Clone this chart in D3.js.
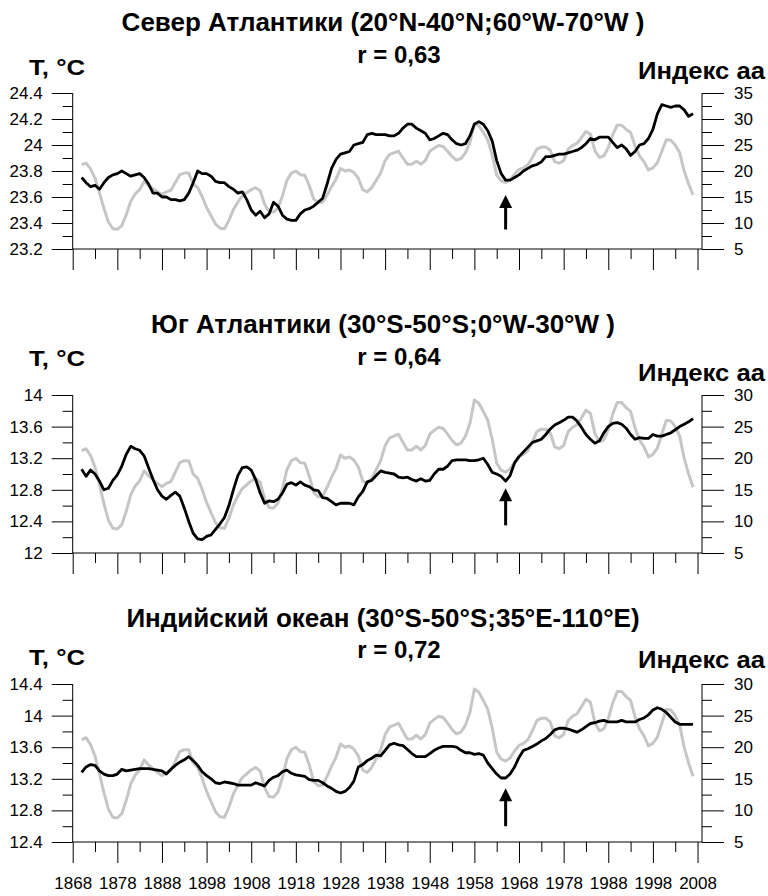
<!DOCTYPE html>
<html>
<head>
<meta charset="utf-8">
<script src="https://cdn.jsdelivr.net/npm/d3@7"></script>
<style>
  html, body { margin: 0; padding: 0; background: #fff; }
  svg { display: block; }
  text { font-family: "Liberation Sans", Arial, sans-serif; fill: #000; }
</style>
</head>
<body>
<svg id="chart" width="768" height="896"></svg>
<script>
// Years of the smoothed series
const firstYear = 1870;

// Geomagnetic aa index (same series in every panel)
const aaIndex = [
  21.2, 21.5, 20.4, 18.6, 15.8, 12.8, 10.2, 8.9, 8.8, 9.5,
  11.6, 14.2, 15.6, 16.4, 18.0, 17.2, 16.6, 16.0, 15.5, 16.0,
  16.3, 17.8, 19.3, 19.6, 19.6, 17.5, 16.8, 15.1, 13.0, 11.4,
  9.8, 9.0, 8.9, 10.5, 12.6, 14.0, 15.2, 15.8, 16.4, 16.8,
  16.2, 13.6, 12.2, 12.1, 12.9, 15.2, 18.2, 19.6, 20.0, 19.3,
  19.2, 17.2, 14.6, 13.9, 14.0, 15.4, 17.0, 18.4, 20.5, 20.0,
  20.2, 19.7, 18.6, 16.4, 16.0, 16.8, 18.2, 19.6, 22.0, 23.2,
  23.5, 23.8, 22.5, 21.3, 21.3, 21.9, 21.3, 22.0, 23.8, 24.4,
  24.9, 24.7, 23.8, 22.8, 22.1, 22.4, 23.5, 25.5, 29.2, 28.7,
  27.4, 26.0, 23.0, 19.2, 18.1, 17.8, 18.3, 19.4, 20.3, 20.6,
  21.2, 22.6, 24.2, 24.6, 24.6, 24.0, 21.8, 21.5, 22.0, 24.2,
  24.9, 25.3, 26.4, 27.6, 27.1, 23.9, 22.6, 22.9, 24.5, 27.0,
  28.8, 28.8, 28.0, 27.4, 24.8, 22.9, 21.8, 20.2, 20.6, 21.6,
  23.8, 26.0, 25.9, 25.0, 23.5, 20.0, 17.5, 15.4
];

// Sea surface temperature, North Atlantic (20N-40N; 60W-70W)
const tempNorthAtlantic = [
  23.75, 23.71, 23.68, 23.69, 23.66, 23.71, 23.75, 23.77, 23.78, 23.80,
  23.78, 23.76, 23.77, 23.78, 23.75, 23.70, 23.63, 23.63, 23.60, 23.60,
  23.58, 23.58, 23.57, 23.58, 23.63, 23.71, 23.80, 23.78, 23.78, 23.76,
  23.72, 23.71, 23.71, 23.68, 23.66, 23.63, 23.64, 23.58, 23.50, 23.46,
  23.49, 23.44, 23.47, 23.56, 23.53, 23.46, 23.43, 23.42, 23.42, 23.47,
  23.50, 23.51, 23.53, 23.56, 23.59, 23.70, 23.82, 23.89, 23.93, 23.94,
  23.95, 24.00, 24.01, 24.02, 24.08, 24.09, 24.08, 24.08, 24.08, 24.07,
  24.07, 24.09, 24.13, 24.16, 24.16, 24.13, 24.11, 24.09, 24.04, 24.05,
  24.07, 24.09, 24.08, 24.04, 24.01, 24.00, 24.01, 24.07, 24.16, 24.18,
  24.16, 24.11, 24.03, 23.88, 23.78, 23.73, 23.73, 23.75, 23.77, 23.80,
  23.82, 23.84, 23.85, 23.87, 23.91, 23.91, 23.92, 23.93, 23.93, 23.94,
  23.95, 23.96, 23.98, 24.01, 24.05, 24.04, 24.06, 24.06, 24.06, 24.02,
  23.98, 24.00, 23.97, 23.92, 23.95, 24.00, 24.01, 24.05, 24.12, 24.24,
  24.31, 24.30, 24.29, 24.30, 24.30, 24.27, 24.22, 24.24
];

// Sea surface temperature, South Atlantic (30S-50S; 0W-30W)
const tempSouthAtlantic = [
  13.06, 12.97, 13.05, 13.00, 12.91, 12.80, 12.82, 12.92, 12.99, 13.10,
  13.25, 13.35, 13.32, 13.30, 13.23, 13.08, 12.93, 12.80, 12.72, 12.68,
  12.73, 12.77, 12.72, 12.57, 12.40, 12.25, 12.18, 12.17, 12.21, 12.23,
  12.30, 12.37, 12.45, 12.60, 12.80, 12.98, 13.08, 13.09, 13.05, 12.93,
  12.76, 12.63, 12.66, 12.65, 12.68, 12.76, 12.87, 12.89, 12.86, 12.90,
  12.86, 12.84, 12.80, 12.79, 12.70, 12.69, 12.65, 12.61, 12.63, 12.63,
  12.63, 12.61, 12.71, 12.78, 12.90, 12.92, 12.98, 13.04, 13.02, 13.01,
  13.00, 12.96, 12.95, 12.96, 12.93, 12.91, 12.94, 12.91, 12.92, 13.00,
  13.06, 13.06, 13.10, 13.17, 13.18, 13.18, 13.18, 13.17, 13.17, 13.18,
  13.20, 13.12, 13.02, 13.00, 12.97, 12.91, 12.98, 13.14, 13.22, 13.28,
  13.34, 13.40, 13.42, 13.44, 13.50, 13.57, 13.62, 13.65, 13.68, 13.72,
  13.72, 13.67, 13.59, 13.50, 13.44, 13.39, 13.42, 13.52, 13.60, 13.64,
  13.65, 13.63, 13.58, 13.50, 13.44, 13.46, 13.45, 13.45, 13.50, 13.48,
  13.48, 13.50, 13.52, 13.56, 13.60, 13.63, 13.66, 13.70
];

// Sea surface temperature, Indian Ocean (30S-50S; 35E-110E)
const tempIndianOcean = [
  13.28, 13.35, 13.38, 13.37, 13.30, 13.26, 13.24, 13.24, 13.26, 13.32,
  13.30, 13.31, 13.32, 13.33, 13.33, 13.33, 13.32, 13.31, 13.30, 13.26,
  13.32, 13.37, 13.41, 13.44, 13.48, 13.43, 13.37, 13.29, 13.24, 13.20,
  13.15, 13.14, 13.16, 13.15, 13.14, 13.12, 13.12, 13.12, 13.12, 13.15,
  13.13, 13.11, 13.18, 13.22, 13.24, 13.29, 13.31, 13.27, 13.25, 13.24,
  13.23, 13.19, 13.18, 13.18, 13.15, 13.11, 13.08, 13.04, 13.02, 13.04,
  13.09, 13.17, 13.35, 13.38, 13.43, 13.46, 13.50, 13.49, 13.56, 13.63,
  13.65, 13.63, 13.62, 13.57, 13.52, 13.48, 13.48, 13.48, 13.52, 13.56,
  13.59, 13.61, 13.61, 13.61, 13.60, 13.56, 13.53, 13.53, 13.51, 13.52,
  13.50, 13.40, 13.33, 13.26, 13.21, 13.21, 13.26, 13.35, 13.47, 13.56,
  13.58, 13.61, 13.64, 13.68, 13.71, 13.76, 13.82, 13.84, 13.84, 13.83,
  13.81, 13.79, 13.82, 13.86, 13.90, 13.91, 13.93, 13.94, 13.92, 13.92,
  13.92, 13.94, 13.92, 13.92, 13.92, 13.95, 13.97, 14.01, 14.07, 14.10,
  14.08, 14.04, 13.98, 13.92, 13.89, 13.89, 13.89, 13.89
];

// Panel headings
const panelTitles = [
  "Север Атлантики (20°N-40°N;60°W-70°W )",
  "Юг Атлантики (30°S-50°S;0°W-30°W )",
  "Индийский океан (30°S-50°S;35°E-110°E)"
];
const correlations = ["r = 0,63", "r = 0,64", "r = 0,72"];

// Axis domains and tick values
const tempDomains = [[23.2, 24.4], [12, 14], [12.4, 14.4]];
const tempMajorTicks = [
  [23.2, 23.4, 23.6, 23.8, 24, 24.2, 24.4],
  [12, 12.4, 12.8, 13.2, 13.6, 14],
  [12.4, 12.8, 13.2, 13.6, 14, 14.4]
];
const tempMinorTicks = [
  [23.3, 23.5, 23.7, 23.9, 24.1, 24.3],
  [12.2, 12.6, 13.0, 13.4, 13.8],
  [12.6, 13.0, 13.4, 13.8, 14.2]
];
const aaDomains = [[5, 35], [5, 30], [5, 30]];
const aaMajorTicks = [[5, 10, 15, 20, 25, 30, 35], [5, 10, 15, 20, 25, 30], [5, 10, 15, 20, 25, 30]];
const aaMinorTicks = [[7.5, 12.5, 17.5, 22.5, 27.5, 32.5], [7.5, 12.5, 17.5, 22.5, 27.5], [7.5, 12.5, 17.5, 22.5, 27.5]];
const yearMajorTicks = [1868, 1878, 1888, 1898, 1908, 1918, 1928, 1938, 1948, 1958, 1968, 1978, 1988, 1998, 2008];
const yearMinorTicks = [1873, 1883, 1893, 1903, 1913, 1923, 1933, 1943, 1953, 1963, 1973, 1983, 1993, 2003];
const yearDomain = [1868, 2009];

// Arrow marking the 1965 minimum: [year, tail value, tip value] in temperature units
const arrows = [[1965, 23.35, 23.615], [1965, 12.35, 12.82], [1965, 12.6, 13.08]];

const tempSeries = [tempNorthAtlantic, tempSouthAtlantic, tempIndianOcean];

// Layout
const plotLeft = 72.7, plotRight = 702;
const panelTop = [93, 395, 684];
const panelBottom = [249, 553, 842];
const titleY = [31, 333, 627];
const rY = [63, 365, 658];
const tLabelY = [75, 366, 665];
const aaLabelY = [79, 381, 668];

const svg = d3.select("#chart");
const x = d3.scaleLinear().domain(yearDomain).range([plotLeft, plotRight]);

const grey = "#c6c6c6";

panelTitles.forEach((title, i) => {
  const g = svg.append("g");
  const yT = d3.scaleLinear().domain(tempDomains[i]).range([panelBottom[i], panelTop[i]]);
  const yA = d3.scaleLinear().domain(aaDomains[i]).range([panelBottom[i], panelTop[i]]);

  // Headings
  g.append("text").attr("x", 383).attr("y", titleY[i])
    .attr("text-anchor", "middle").style("font-size", "26px").style("font-weight", "bold")
    .text(title);
  g.append("text").attr("x", 399).attr("y", rY[i])
    .attr("text-anchor", "middle").style("font-size", "24px").style("font-weight", "bold")
    .text(correlations[i]);
  g.append("text").attr("x", 29).attr("y", tLabelY[i])
    .style("font-size", "22px").style("font-weight", "bold")
    .attr("textLength", 56).attr("lengthAdjust", "spacingAndGlyphs")
    .text("T, °C");
  g.append("text").attr("x", 638).attr("y", aaLabelY[i])
    .style("font-size", "23px").style("font-weight", "bold")
    .attr("textLength", 127).attr("lengthAdjust", "spacingAndGlyphs")
    .text("Индекс аа");

  // Left temperature axis
  const leftAxis = d3.axisLeft(yT).tickValues(tempMajorTicks[i]).tickSize(21).tickPadding(9)
    .tickFormat(d3.format("~g"));
  const la = g.append("g").attr("transform", `translate(${plotLeft},0)`).call(leftAxis);
  la.select(".domain").remove();
  la.append("line").attr("x1", 0).attr("x2", 0)
    .attr("y1", panelTop[i]).attr("y2", panelBottom[i]).attr("stroke", "#000");
  g.append("g").attr("transform", `translate(${plotLeft},0)`)
    .call(d3.axisLeft(yT).tickValues(tempMinorTicks[i]).tickSize(10).tickFormat(""))
    .select(".domain").remove();

  // Right aa axis
  const rightAxis = d3.axisRight(yA).tickValues(aaMajorTicks[i]).tickSize(22).tickPadding(10)
    .tickFormat(d3.format("d"));
  const ra = g.append("g").attr("transform", `translate(${plotRight},0)`).call(rightAxis);
  ra.select(".domain").remove();
  ra.append("line").attr("x1", 0).attr("x2", 0)
    .attr("y1", panelTop[i]).attr("y2", panelBottom[i]).attr("stroke", "#000");
  g.append("g").attr("transform", `translate(${plotRight},0)`)
    .call(d3.axisRight(yA).tickValues(aaMinorTicks[i]).tickSize(10).tickFormat(""))
    .select(".domain").remove();

  // Bottom year axis
  const bottom = g.append("g").attr("transform", `translate(0,${panelBottom[i]})`)
    .call(d3.axisBottom(x).tickValues(yearMajorTicks).tickSize(21).tickPadding(14)
      .tickFormat(i === 2 ? d3.format("d") : ""));
  bottom.select(".domain").remove();
  bottom.append("line").attr("x1", plotLeft).attr("x2", plotRight)
    .attr("y1", 0).attr("y2", 0).attr("stroke", "#000");
  g.append("g").attr("transform", `translate(0,${panelBottom[i]})`)
    .call(d3.axisBottom(x).tickValues(yearMinorTicks).tickSize(10).tickFormat(""))
    .select(".domain").remove();

  g.selectAll(".tick text").style("font-size", "17px").attr("fill", "#000")
    .style("font-family", "'Liberation Sans', Arial, sans-serif");
  g.selectAll(".tick line").attr("stroke", "#000");

  // aa index (grey) and temperature (black) curves
  g.append("path").datum(aaIndex)
    .attr("fill", "none").attr("stroke", grey).attr("stroke-width", 3)
    .attr("stroke-linejoin", "round")
    .attr("d", d3.line().x((d, k) => x(firstYear + k)).y(d => yA(d)));
  g.append("path").datum(tempSeries[i])
    .attr("fill", "none").attr("stroke", "#000").attr("stroke-width", 2.8)
    .attr("stroke-linejoin", "round")
    .attr("d", d3.line().x((d, k) => x(firstYear + k)).y(d => yT(d)));

  // Arrow
  const [ay, aTail, aTip] = arrows[i];
  const ax = x(ay), tipY = yT(aTip), tailY = yT(aTail);
  g.append("line").attr("x1", ax).attr("x2", ax).attr("y1", tailY).attr("y2", tipY + 10)
    .attr("stroke", "#000").attr("stroke-width", 3);
  g.append("path")
    .attr("d", `M${ax},${tipY} L${ax - 6.5},${tipY + 13} L${ax + 6.5},${tipY + 13} Z`)
    .attr("fill", "#000");
});
</script>
</body>
</html>
